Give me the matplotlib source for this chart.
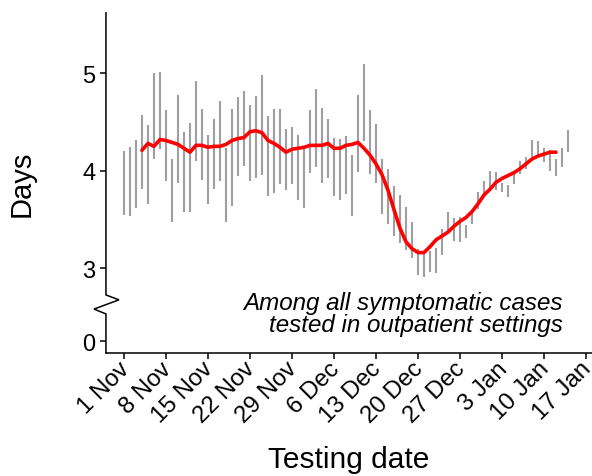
import numpy as np
import matplotlib
matplotlib.use("Agg")
import matplotlib.pyplot as plt
import matplotlib.dates as mdates
from matplotlib.transforms import blended_transform_factory

plt.rcParams["font.family"] = ["Liberation Sans", "DejaVu Sans"]

# Daily interval (low, high) of the delay, from 1 Nov onwards
start = np.datetime64("2020-11-01")
ci_low = [3.55, 3.54, 3.62, 3.81, 3.66, 4.12, 4.22, 3.89, 3.47, 3.87,
          3.58, 3.58, 4.10, 3.90, 3.66, 3.81, 3.89, 3.47, 3.64, 3.95,
          4.05, 3.89, 3.93, 3.96, 3.74, 3.77, 3.86, 3.80, 3.86, 3.70,
          3.62, 3.98, 4.04, 3.87, 3.92, 3.74, 3.70, 3.76, 3.54, 3.99,
          4.30, 3.97, 3.87, 3.56, 3.45, 3.33, 3.26, 3.19, 3.10, 2.93,
          2.91, 2.96, 2.95, 3.13, 3.37, 3.28, 3.27, 3.31, 3.45, 3.61,
          3.75, 3.81, 3.80, 3.78, 3.73, 3.86, 3.97, 4.02, 4.14, 4.16,
          4.09, 4.00, 3.95, 4.04, 4.19]
ci_high = [4.20, 4.24, 4.31, 4.57, 4.47, 5.00, 5.01, 4.62, 4.12, 4.78,
           4.40, 4.49, 4.92, 4.63, 4.37, 4.53, 4.72, 4.23, 4.63, 4.76,
           4.82, 4.67, 4.77, 4.98, 4.56, 4.63, 4.63, 4.43, 4.45, 4.37,
           4.23, 4.62, 4.84, 4.64, 4.53, 4.34, 4.33, 4.36, 4.16, 4.78,
           5.09, 4.62, 4.48, 4.12, 4.02, 3.84, 3.75, 3.63, 3.47, 3.20,
           3.16, 3.18, 3.21, 3.40, 3.58, 3.51, 3.52, 3.44, 3.57, 3.78,
           3.89, 4.00, 3.99, 3.87, 3.85, 3.97, 4.10, 4.14, 4.32, 4.30,
           4.23, 4.21, 4.12, 4.23, 4.42]

# Smoothed estimate, starting on 4 Nov
smooth_offset = 3
smooth = [4.21, 4.28, 4.25, 4.32, 4.31, 4.29, 4.27, 4.23, 4.19, 4.26,
          4.26, 4.24, 4.25, 4.25, 4.27, 4.31, 4.33, 4.34, 4.40, 4.41,
          4.39, 4.31, 4.28, 4.24, 4.19, 4.22, 4.23, 4.24, 4.26, 4.26,
          4.26, 4.28, 4.23, 4.23, 4.26, 4.27, 4.29, 4.23, 4.16, 4.07,
          3.96, 3.80, 3.60, 3.41, 3.27, 3.20, 3.16, 3.16, 3.22, 3.29,
          3.33, 3.37, 3.43, 3.48, 3.52, 3.58, 3.66, 3.75, 3.81, 3.88,
          3.92, 3.95, 3.98, 4.02, 4.07, 4.12, 4.15, 4.17, 4.19, 4.19]

x_tick_labels = ["1 Nov", "8 Nov", "15 Nov", "22 Nov", "29 Nov", "6 Dec",
                 "13 Dec", "20 Dec", "27 Dec", "3 Jan", "10 Jan", "17 Jan"]
y_tick_values = [0, 3, 4, 5]
y_break_pos = 2.25  # where the zero sits below the axis break

dates = start + np.arange(len(ci_low)).astype("timedelta64[D]")
smooth_dates = start + (smooth_offset + np.arange(len(smooth))).astype("timedelta64[D]")
tick_dates = start + (7 * np.arange(len(x_tick_labels))).astype("timedelta64[D]")

fig = plt.figure(figsize=(5.92, 4.77), dpi=100)
ax = fig.add_axes([0.179, 0.258, 0.821, 0.713])

ax.vlines(dates, ci_low, ci_high, color="#a19ea3", linewidth=1.5, zorder=2)
ax.plot(smooth_dates, smooth, color="#ff0000", linewidth=2.6,
        solid_capstyle="round", solid_joinstyle="round", zorder=3)

ax.set_xlim(start - np.timedelta64(3, "D"), start + np.timedelta64(78, "D"))
ax.set_ylim(2.13, 5.62)

# Date ticks; the slanted labels are placed by hand just below each tick
ax.set_xticks(tick_dates)
ax.set_xticklabels([])
for d, lab in zip(mdates.date2num(tick_dates), x_tick_labels):
    ax.annotate(lab, xy=(d, 0), xycoords=ax.get_xaxis_transform(),
                xytext=(-4.3, -3.3), textcoords="offset points",
                rotation=45, rotation_mode="anchor", ha="right", va="top",
                fontsize=17.3, annotation_clip=False)

ytick_pos = [y_break_pos if v == 0 else v for v in y_tick_values]
ax.set_yticks(ytick_pos)
ax.set_yticklabels([str(v) for v in y_tick_values], fontsize=17)
ax.tick_params(axis="both", length=4.5, width=1.1, color="black")
ax.tick_params(axis="y", pad=3)

for side in ("top", "right", "left"):
    ax.spines[side].set_visible(False)
ax.spines["bottom"].set_linewidth(1.1)

# Left axis line with a zig-zag break between 0 and 3
ax_w_px = 0.821 * 592
tr = blended_transform_factory(ax.transAxes, ax.transData)
bx = [0, 0, 13 / ax_w_px, -12 / ax_w_px, 0, 0]
by = [5.62, 2.725, 2.675, 2.58, 2.53, 2.13]
ax.plot(bx, by, transform=tr, color="black", linewidth=1.1,
        clip_on=False, solid_joinstyle="miter", zorder=4)

ax.text(0.940, 0.182, "Among all symptomatic cases\ntested in outpatient settings",
        transform=ax.transAxes, ha="right", va="top", style="italic",
        fontsize=17.4, linespacing=0.95)

ax.set_ylabel("Days", fontsize=21, labelpad=34)
ax.set_xlabel("Testing date", fontsize=21.5)
ax.xaxis.set_label_coords(0.5, -0.272)

fig.savefig("out.png", dpi=100)
